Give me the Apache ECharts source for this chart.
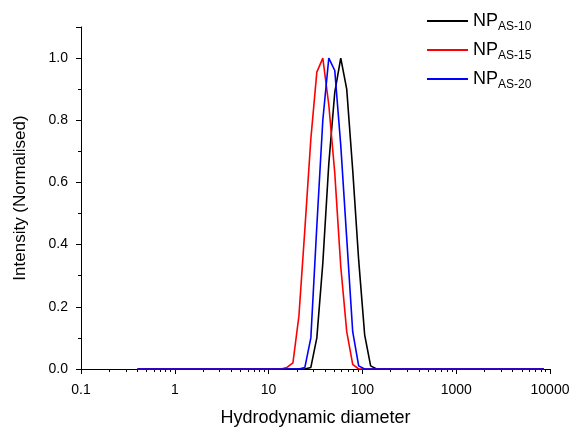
<!DOCTYPE html>
<html><head><meta charset="utf-8">
<script src="https://cdn.jsdelivr.net/npm/echarts@6/dist/echarts.min.js"></script>
<style>html,body{margin:0;padding:0;background:#fff}#c{width:573px;height:432px}</style>
</head><body><div id="c"></div>
<script>
// Hydrodynamic diameter bins (nm)
var sizes = [0.4,0.4632,0.5365,0.6213,0.7195,0.8332,0.9649,1.117,1.294,1.499,
  1.736,2.01,2.328,2.696,3.122,3.615,4.187,4.849,5.615,6.503,
  7.531,8.721,10.1,11.7,13.54,15.69,18.17,21.04,24.36,28.21,
  32.67,37.84,43.82,50.75,58.77,68.06,78.82,91.28,105.7,122.4,
  141.8,164.2,190.1,220.2,255.0,295.3,342.0,396.1,458.7,531.2,
  615.1,712.4,825.0,955.4,1106,1281,1484,1718,1990,2305,
  2669,3091,3580,4145,4801,5560,6439,7456,8635];
var seriesNames = ['AS-10','AS-15','AS-20'];
var np10 = [0,0,0,0,0,0,0,0,0,0, 0,0,0,0,0,0,0,0,0,0,
  0,0,0,0,0,0,0,0,0,0.005, 0.10,0.34,0.66,0.89,1.0,0.90,0.64,0.35,0.11,0.01,
  0,0,0,0,0,0,0,0,0,0, 0,0,0,0,0,0,0,0,0,0, 0,0,0,0,0,0,0,0,0];
var np15 = [0,0,0,0,0,0,0,0,0,0, 0,0,0,0,0,0,0,0,0,0,
  0,0,0,0,0,0.005,0.02,0.17,0.45,0.74, 0.955,1.0,0.85,0.63,0.33,0.12,0.015,0,0,0,
  0,0,0,0,0,0,0,0,0,0, 0,0,0,0,0,0,0,0,0,0, 0,0,0,0,0,0,0,0,0];
var np20 = [0,0,0,0,0,0,0,0,0,0, 0,0,0,0,0,0,0,0,0,0,
  0,0,0,0,0,0,0,0,0.005,0.10, 0.46,0.80,1.0,0.96,0.72,0.42,0.12,0.01,0,0,
  0,0,0,0,0,0,0,0,0,0, 0,0,0,0,0,0,0,0,0,0, 0,0,0,0,0,0,0,0,0];
var xTickLabels = ['0.1','1','10','100','1000','10000'];
var yTickLabels = ['0.0','0.2','0.4','0.6','0.8','1.0'];
var colors = ['#000000','#ff0000','#0000ff'];

function pairs(vals){ return sizes.map(function(s,i){ return [s, vals[i]]; }); }
var FONT = 'Liberation Sans, Arial, sans-serif';
var chart = echarts.init(document.getElementById('c'), null, {renderer:'canvas'});
var allVals = [np10, np15, np20];
chart.setOption({
  animation:false,
  backgroundColor:'#fff',
  grid:{left:81, right:23, top:27, bottom:60, containLabel:false},
  legend:{
    orient:'vertical', left:422, top:7, itemWidth:41, itemHeight:2, itemGap:8.5,
    icon:'rect',
    formatter:function(n){ return '{a|NP}{b|' + n + '}'; },
    textStyle:{fontFamily:FONT, color:'#000', fontSize:18,
      rich:{a:{fontSize:18, fontFamily:FONT, color:'#000'},
            b:{fontSize:12, fontFamily:FONT, color:'#000', padding:[11,0,0,0]}}},
    data: seriesNames
  },
  xAxis:{
    type:'log', logBase:10, min:0.1, max:10000,
    name:'Hydrodynamic diameter', nameLocation:'middle', nameGap:40,
    nameTextStyle:{fontFamily:FONT, fontSize:18, color:'#000'},
    axisLine:{lineStyle:{color:'#000', width:1}},
    axisTick:{show:true, inside:false, length:5, lineStyle:{color:'#000'}},
    minorTick:{show:true, splitNumber:9, length:3, lineStyle:{color:'#000'}},
    splitLine:{show:false},
    axisLabel:{fontFamily:FONT, fontSize:14, color:'#000', margin:14,
      formatter:function(v){ var i = Math.round(Math.log10(v))+1; return xTickLabels[i]!==undefined?xTickLabels[i]:''; }}
  },
  yAxis:{
    type:'value', min:0, max:1.1, interval:0.2,
    name:'Intensity (Normalised)', nameLocation:'middle', nameGap:52,
    nameTextStyle:{fontFamily:FONT, fontSize:17, color:'#000'},
    axisLine:{show:true, lineStyle:{color:'#000', width:1}},
    axisTick:{show:true, inside:false, length:5, lineStyle:{color:'#000'}},
    minorTick:{show:true, splitNumber:2, length:3, lineStyle:{color:'#000'}},
    splitLine:{show:false},
    axisLabel:{fontFamily:FONT, fontSize:14, color:'#000', margin:13, showMaxLabel:false,
      formatter:function(v){ var i = Math.round(v/0.2); return (Math.abs(v-i*0.2)<1e-6 && yTickLabels[i]) ? yTickLabels[i] : ''; }}
  },
  series: seriesNames.map(function(n,k){
    return {name:n, type:'line', data:pairs(allVals[k]), symbol:'none',
      lineStyle:{color:colors[k], width:1.6}, itemStyle:{color:colors[k]}};
  })
});
</script></body></html>
